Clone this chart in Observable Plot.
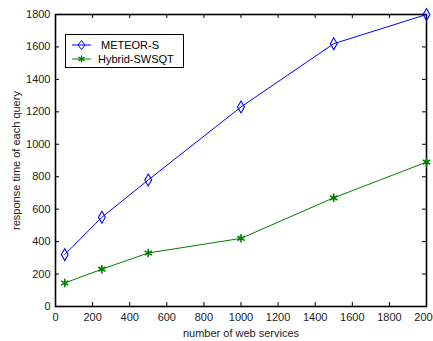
<!DOCTYPE html>
<html>
<head>
<meta charset="utf-8">
<script src="https://cdn.jsdelivr.net/npm/d3@7"></script>
<script src="https://cdn.jsdelivr.net/npm/@observablehq/plot@0.6"></script>
<style>
  body { margin: 0; background: #fff; }
  #wrap { position: relative; width: 433px; height: 341px; overflow: hidden; }
  #legend { position: absolute; left: 65px; top: 34px; width: 117px; height: 32px; border: 1px solid #000; background: #fff;
    font-family: "Liberation Sans", Arial, sans-serif; font-size: 11px; color: #000; }
  #legend .row { position: absolute; left: 0; height: 14px; display: flex; align-items: center; }
  #legend svg { display: block; }
</style>
</head>
<body>
<div id="wrap"></div>
<script>
const services = [50, 250, 500, 1000, 1500, 2000];
const meteorS = [320, 550, 780, 1230, 1620, 1800];
const hybrid = [145, 230, 330, 420, 670, 890];
const seriesNames = ["METEOR-S", "Hybrid-SWSQT"];
const xTicks = [0, 200, 400, 600, 800, 1000, 1200, 1400, 1600, 1800, 2000];
const yTicks = [0, 200, 400, 600, 800, 1000, 1200, 1400, 1600, 1800];

const dataA = services.map((x, i) => ({x, y: meteorS[i]}));
const dataB = services.map((x, i) => ({x, y: hybrid[i]}));

const W = 433, H = 341, mL = 55, mR = 7, mT = 14, mB = 35;
const pw = W - mL - mR, ph = H - mT - mB, tk = 4;

const chart = Plot.plot({
  width: W, height: H,
  marginLeft: mL, marginRight: mR, marginTop: mT, marginBottom: mB,
  style: {fontFamily: '"Liberation Sans", Arial, sans-serif', fontSize: "11px", color: "#222", overflow: "visible"},
  x: {domain: [0, 2000]},
  y: {domain: [0, 1800]},
  marks: [
    Plot.axisX({ticks: xTicks, tickSize: 0, tickPadding: 7, tickFormat: d => String(d), label: "number of web services", labelAnchor: "center", labelOffset: 30, labelArrow: "none"}),
    Plot.axisY({ticks: yTicks, tickSize: 0, tickPadding: 5, tickFormat: d => String(d), label: "response time of each query", labelAnchor: "center", labelOffset: 43, labelArrow: "none"}),
    Plot.ruleX(xTicks, {x: d => d, insetTop: ph - tk, stroke: "#000"}),
    Plot.ruleX(xTicks, {x: d => d, insetBottom: ph - tk, stroke: "#000"}),
    Plot.ruleY(yTicks, {y: d => d, insetRight: pw - tk, stroke: "#000"}),
    Plot.ruleY(yTicks, {y: d => d, insetLeft: pw - tk, stroke: "#000"}),
    Plot.frame({stroke: "#000", strokeWidth: 1.6}),
    Plot.line(dataA, {x: "x", y: "y", stroke: "#0000ff", strokeWidth: 1}),
    Plot.dot(dataA, {x: "x", y: "y", symbol: "diamond", r: 3.6, stroke: "#0000ff", fill: "none", strokeWidth: 1.1}),
    Plot.line(dataB, {x: "x", y: "y", stroke: "#008000", strokeWidth: 1}),
    Plot.dot(dataB, {x: "x", y: "y", symbol: "asterisk", r: 4, stroke: "#008000", strokeWidth: 1.6})
  ]
});
const wrap = document.getElementById("wrap");
wrap.appendChild(chart);

const legend = document.createElement("div");
legend.id = "legend";
legend.innerHTML = `
  <div class="row" style="top:3px;">
    <svg width="30" height="12"><line x1="6" y1="6" x2="25" y2="6" stroke="#0000ff"/><path d="M15.5,1.5 L19,6 L15.5,10.5 L12,6 Z" fill="none" stroke="#0000ff"/></svg>
    <span style="margin-left:5px">${seriesNames[0]}</span>
  </div>
  <div class="row" style="top:17px;">
    <svg width="30" height="12"><line x1="6" y1="6" x2="25" y2="6" stroke="#008000"/><g stroke="#008000" stroke-width="1.4"><line x1="15.5" y1="2.5" x2="15.5" y2="9.5"/><line x1="12.5" y1="4.2" x2="18.5" y2="7.8"/><line x1="12.5" y1="7.8" x2="18.5" y2="4.2"/></g></svg>
    <span style="margin-left:2px">${seriesNames[1]}</span>
  </div>`;
wrap.appendChild(legend);
</script>
</body>
</html>
